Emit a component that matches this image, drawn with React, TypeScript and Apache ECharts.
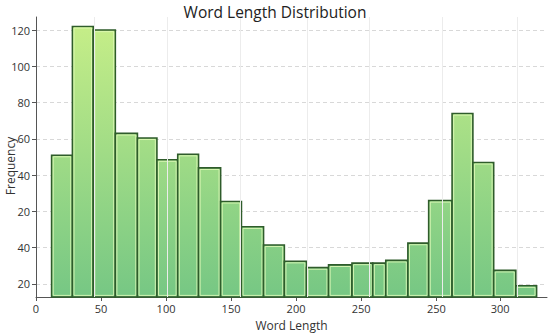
import React, { useEffect, useRef } from "react";
import * as echarts from "echarts";

// Histogram bin edges (word length) and frequencies
const binStarts = [12, 28, 44, 61, 78, 93, 109, 125, 142, 158, 175, 191, 208, 225, 243, 259, 269, 286, 302, 320, 336, 352, 369];
const binEnds = [28, 44, 61, 78, 93, 109, 125, 142, 158, 175, 191, 208, 225, 243, 259, 269, 286, 302, 320, 336, 352, 369, 385];
const frequencies = [51, 122, 120, 63, 60.5, 48.5, 51.5, 44, 25.5, 11.5, 1.5, -7.5, -11, -9.5, -8.5, -8.5, -7, 2.5, 26, 74, 47, -12.5, -21];

// Axis tick values and the labels printed at them
const xTickValues = [0, 50, 100, 150, 200, 250, 308, 357];
const xTickLabels = ["0", "50", "100", "150", "200", "250", "250", "300"];
const yTickValues = [-20, 0, 20, 40, 60, 80, 100, 120];
const yTickLabels = ["20", "40", "20", "40", "60", "80", "100", "120"];
const vGridValues = [44.6, 100.8, 156.9, 208.5, 256.2, 312.3, 370];

const X_MIN = 0;
const X_MAX = 393;
const Y_MIN = -27.2;
const Y_MAX = 127.2;

const FONT = "'Open Sans', 'Noto Sans', sans-serif";

export default function App() {
  const ref = useRef<HTMLDivElement>(null);

  useEffect(() => {
    if (!ref.current) return;
    const chart = echarts.init(ref.current, undefined, { renderer: "svg" });
    const grad = new echarts.graphic.LinearGradient(
      0, 17, 0, 297,
      [
        { offset: 0, color: "#c8ef88" },
        { offset: 1, color: "#76c784" },
      ],
      true
    );
    const data = frequencies.map((v, i) => [binStarts[i], binEnds[i], v]);
    const xLabelMap: Record<string, string> = {};
    xTickValues.forEach((v, i) => (xLabelMap[String(v)] = xTickLabels[i]));
    const yLabelMap: Record<string, string> = {};
    yTickValues.forEach((v, i) => (yLabelMap[String(v)] = yTickLabels[i]));

    chart.setOption({
      animation: false,
      backgroundColor: "#ffffff",
      textStyle: { fontFamily: FONT },
      title: {
        text: "Word Length Distribution",
        left: "center",
        top: -1,
        textStyle: { fontSize: 15.5, fontWeight: "normal", color: "#222", fontFamily: FONT },
      },
      grid: { left: 36, right: 3, top: 17, bottom: 36, containLabel: false, outerBoundsMode: "none" },
      xAxis: {
        type: "value",
        min: X_MIN,
        max: X_MAX,
        name: "Word Length",
        nameLocation: "middle",
        nameGap: 22,
        nameMoveOverlap: false,
        nameTextStyle: { fontSize: 12, color: "#333", fontFamily: FONT },
        axisLine: { show: true, onZero: false, lineStyle: { color: "#555", width: 1 } },
        axisTick: { show: true, length: 4, customValues: xTickValues, lineStyle: { color: "#555" } },
        axisLabel: {
          customValues: xTickValues,
          margin: 6,
          fontSize: 11,
          color: "#333",
          fontFamily: FONT,
          formatter: (v: number) => xLabelMap[String(v)] ?? "",
        },
        splitLine: { show: false },
      },
      yAxis: {
        type: "value",
        min: Y_MIN,
        max: Y_MAX,
        name: "Frequency",
        nameLocation: "middle",
        nameGap: 20,
        nameMoveOverlap: false,
        nameTextStyle: { fontSize: 12, color: "#333", fontFamily: FONT, padding: [0, 18, 0, 0] },
        axisLine: { show: true, onZero: false, lineStyle: { color: "#555", width: 1 } },
        axisTick: { show: true, length: 4, customValues: yTickValues, lineStyle: { color: "#555" } },
        axisLabel: {
          customValues: yTickValues,
          margin: 6,
          fontSize: 11,
          color: "#333",
          fontFamily: FONT,
          formatter: (v: number) => yLabelMap[String(v)] ?? "",
        },
        splitLine: { show: true, lineStyle: { color: "#d8d8d8", type: [4, 3], width: 1 } },
      },
      series: [
        {
          type: "line",
          data: [],
          z: 0,
          silent: true,
          markLine: {
            silent: true,
            symbol: ["none", "none"],
            label: { show: false },
            lineStyle: { color: "#ececec", type: "solid", width: 1 },
            emphasis: { disabled: true },
            data: vGridValues.map((v) => ({ xAxis: v, lineStyle: { color: "#ececec", type: "solid", width: 1 } })),
          },
        },
        {
          type: "custom",
          z: 3,
          encode: { x: [0, 1], y: 2 },
          data,
          renderItem: (params: any, api: any) => {
            const x0 = api.value(0);
            const x1 = api.value(1);
            const v = api.value(2);
            const p0 = api.coord([x0, Y_MIN]);
            const p1 = api.coord([x1, v]);
            const x = p0[0];
            const y = p1[1];
            const w = p1[0] - p0[0];
            const h = p0[1] - p1[1];
            return {
              type: "group",
              children: [
                {
                  type: "rect",
                  shape: { x, y, width: w, height: h },
                  style: { fill: grad, stroke: "#2f5c2b", lineWidth: 1.6 },
                },
                {
                  type: "rect",
                  shape: { x: x + 1.6, y: y + 1.6, width: Math.max(0, w - 3.2), height: Math.max(0, h - 3.2) },
                  style: { fill: "none", stroke: "rgba(225,250,185,0.85)", lineWidth: 1 },
                },
              ],
            };
          },
        },
      ],
    });
    return () => chart.dispose();
  }, []);

  return (
    <div
      ref={ref}
      style={{ position: "fixed", left: 0, top: 0, width: 550, height: 333, background: "#fff" }}
    />
  );
}
